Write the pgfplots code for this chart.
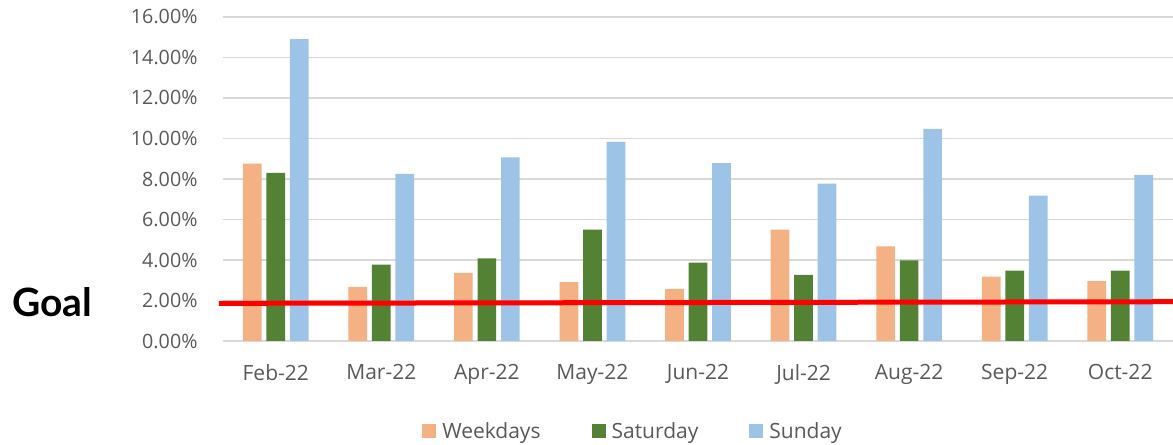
\documentclass[border=0pt]{standalone}
\usepackage{pgfplots}
\pgfplotsset{compat=1.18}
\usepackage{fontspec}
\setmainfont{Open Sans}
\newfontfamily\goalfont{Lato}
\definecolor{wkd}{HTML}{F4B183}
\definecolor{sat}{HTML}{548235}
\definecolor{sun}{HTML}{9DC3E6}
\definecolor{grd}{HTML}{D9D9D9}
\definecolor{txt}{HTML}{595959}
\begin{document}
\begin{tikzpicture}[x=1bp,y=1bp]
\begin{axis}[
  at={(223bp,104bp)}, anchor=south west,
  scale only axis, width=950bp, height=324bp,
  xmin=-0.5, xmax=8.5, ymin=0, ymax=16,
  ybar=4.8bp, bar width=18.7bp,
  axis line style={draw=none},
  xtick={0,...,8},
  xticklabels={Feb-22,Mar-22,Apr-22,May-22,Jun-22,Jul-22,Aug-22,Sep-22,Oct-22},
  ytick={0,2,...,16},
  yticklabels={0.00\%,2.00\%,4.00\%,6.00\%,8.00\%,10.00\%,12.00\%,14.00\%,16.00\%},
  major tick length=0pt,
  ymajorgrids, grid style={grd, line width=1.5bp},
  tick label style={text=txt},
  yticklabel style={font=\fontsize{19.7bp}{22bp}\selectfont, xshift=-22bp},
  xticklabel style={font=\fontsize{21bp}{23bp}\selectfont, yshift=-20bp},
  clip=false,
  legend columns=3,
  legend style={at={(0.4316,-0.278)}, anchor=center, draw=none, fill=none,
    font=\fontsize{21bp}{23bp}\selectfont, text=txt,
    /tikz/every odd column/.append style={column sep=4bp},
    /tikz/every even column/.append style={column sep=49bp}},
  legend image code/.code={\fill[#1] (0bp,-7bp) rectangle (14bp,7bp);},
]
\addplot[fill=wkd, draw=none] coordinates {(0,8.76) (1,2.67) (2,3.36) (3,2.91) (4,2.58) (5,5.50) (6,4.67) (7,3.18) (8,2.96)};
\addplot[fill=sat, draw=none] coordinates {(0,8.30) (1,3.77) (2,4.08) (3,5.50) (4,3.87) (5,3.27) (6,3.98) (7,3.47) (8,3.47)};
\addplot[fill=sun, draw=none] coordinates {(0,14.91) (1,8.25) (2,9.07) (3,9.83) (4,8.79) (5,7.77) (6,10.48) (7,7.18) (8,8.20)};
\legend{Weekdays,Saturday,Sunday}
\addplot[sharp plot, red, line width=5bp, forget plot] coordinates {(-0.538,1.86) (8.5,1.94)};
\end{axis}
\node[anchor=base west, inner sep=0pt, font=\goalfont\bfseries\fontsize{39bp}{40bp}\selectfont] at (12bp,128bp) {Goal};
\pgfresetboundingbox
\path[use as bounding box] (0,0) rectangle (1173bp,445bp);
\end{tikzpicture}
\end{document}
